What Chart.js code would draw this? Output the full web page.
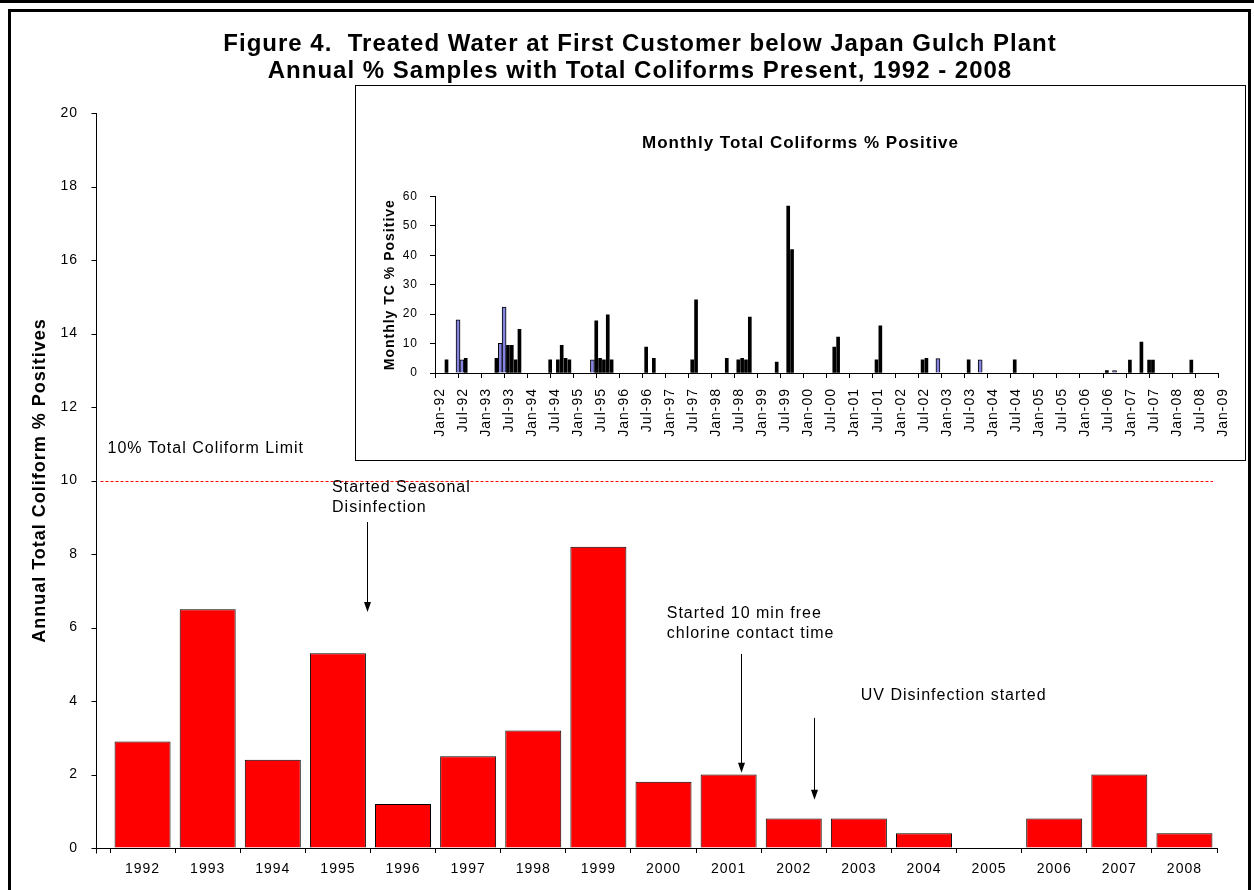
<!DOCTYPE html>
<html>
<head>
<meta charset="utf-8">
<script src="https://cdn.jsdelivr.net/npm/chart.js@4"></script>
<style>
body { margin: 0; background: #fff; width: 1254px; height: 890px; overflow: hidden; position: relative; font-family: 'Liberation Sans', Arial, sans-serif; }
#topbar { position: absolute; left: 0; top: 0; width: 1254px; height: 3px; background: #000; }
#frame { position: absolute; left: 8px; top: 9px; width: 1237px; height: 900px; border: 3px solid #000; }
#main { position: absolute; left: 0; top: 0; }
#title { position: absolute; left: 0; top: 29px; width: 1280px; text-align: center; font-weight: bold; font-size: 24px; line-height: 27px; letter-spacing: 1px; }
#inset { position: absolute; left: 355px; top: 85px; width: 889px; height: 374px; border: 1px solid #000; background: #fff; }
</style>
</head>
<body>
<div id="topbar"></div>
<div id="frame"></div>
<canvas id="main" width="1254" height="890"></canvas>
<div id="title">Figure 4.&nbsp; Treated Water at First Customer below Japan Gulch Plant<br>Annual % Samples with Total Coliforms Present, 1992 - 2008</div>
<div id="inset"><canvas id="monthly" width="889" height="374"></canvas></div>

<script>
const FONT = "'Liberation Sans', Arial, sans-serif";

// annual chart
const years = ['1992', '1993', '1994', '1995', '1996', '1997', '1998', '1999', '2000',
    '2001', '2002', '2003', '2004', '2005', '2006', '2007', '2008'];
const annualPct = [2.9, 6.5, 2.4, 5.3, 1.2, 2.5, 3.2, 8.2, 1.8, 2.0, 0.8, 0.8, 0.4, 0, 0.8, 2.0, 0.4];
const annualMax = 20;
const annualStep = 2;
const limitPct = 10;
const limitLabel = '10% Total Coliform Limit';

// monthly inset
const monthlyMonths = ['1992-04', '1992-09', '1993-05', '1993-08', '1993-09', '1993-10', '1993-11',
    '1994-07', '1994-09', '1994-10', '1994-11', '1994-12', '1995-07', '1995-08', '1995-09', '1995-10',
    '1995-11', '1996-08', '1996-10', '1997-08', '1997-09', '1998-05', '1998-08', '1998-09', '1998-10',
    '1998-11', '1999-06', '1999-09', '1999-10', '2000-09', '2000-10', '2001-08', '2001-09', '2002-08',
    '2002-09', '2003-08', '2004-08', '2006-08', '2007-02', '2007-05', '2007-07', '2007-08', '2008-06'];
const monthlyPct = [4.5, 5.0, 5.0, 9.4, 9.4, 4.5, 14.8,
    4.5, 4.5, 9.4, 5.0, 4.5, 17.7, 5.0, 4.5, 19.8,
    4.5, 8.8, 5.0, 4.5, 24.9, 5.0, 4.5, 5.0, 4.5,
    19.0, 3.7, 56.7, 41.9, 8.8, 12.2, 4.5, 16.0, 4.5,
    5.0, 4.5, 4.5, 0.8, 4.4, 10.5, 4.4, 4.4, 4.4];
const shadedMonths = ['1992-07', '1992-08', '1993-06', '1993-07', '1995-06', '2002-12', '2003-11', '2006-10'];
const shadedPct = [18.1, 4.5, 10.1, 22.4, 4.5, 4.9, 4.5, 0.8];
const monthlyMax = 60;
const monthlyStep = 10;
const firstYear = 1992;
const lastTickMonth = '2009-01';

function monthIndex(s) {
    const [y, m] = s.split('-').map(Number);
    return (y - firstYear) * 12 + (m - 1);
}

function monthTick(v) {
    const names = ['Jan', 'Feb', 'Mar', 'Apr', 'May', 'Jun', 'Jul', 'Aug', 'Sep', 'Oct', 'Nov', 'Dec'];
    const y = firstYear + Math.floor(v / 12);
    return `${names[v % 12]}-${String(y % 100).padStart(2, '0')}`;
}

// excel-ish wide text on both canvases
const spacing = {
    id: 'spacing',
    beforeUpdate(chart) { chart.ctx.letterSpacing = '1px'; },
    beforeDraw(chart) { chart.ctx.letterSpacing = '1px'; },
};

// NOTE notes and arrows, placed in category / value units
const notes = [
    { lines: ['Started Seasonal', 'Disinfection'], x: 2.91, y: 9.82, arrowX: 3.45, from: 8.87, to: 6.42 },
    { lines: ['Started 10 min free', 'chlorine contact time'], x: 8.05, y: 6.39, arrowX: 9.19, from: 5.28, to: 2.05 },
    { lines: ['UV Disinfection started'], x: 11.03, y: 4.14, arrowX: 10.31, from: 3.54, to: 1.31 },
];
const axisGap = 14; // y axis sits a bit left of the first category

const notesPlugin = {
    id: 'notes',
    afterDatasetsDraw(chart) {
        const { ctx, chartArea, scales } = chart;
        const xs = scales.x;
        const ys = scales.y;
        ctx.save();

        // y axis line and ticks
        const axX = Math.round(chartArea.left - axisGap) + 0.5;
        ctx.strokeStyle = '#000';
        ctx.lineWidth = 1;
        ctx.beginPath();
        ctx.moveTo(axX, chartArea.top);
        ctx.lineTo(axX, chartArea.bottom + 0.5);
        ctx.lineTo(chartArea.left, chartArea.bottom + 0.5);
        ys.ticks.forEach((t) => {
            const ty = Math.round(ys.getPixelForValue(t.value)) + 0.5;
            ctx.moveTo(axX - 5, ty);
            ctx.lineTo(axX, ty);
        });
        ctx.moveTo(axX, chartArea.bottom + 0.5);
        ctx.lineTo(axX, chartArea.bottom + 5.5);
        ctx.stroke();

        // limit line
        const ly = Math.round(ys.getPixelForValue(limitPct)) + 0.5;
        ctx.strokeStyle = '#ff0000';
        ctx.setLineDash([3, 2]);
        ctx.beginPath();
        ctx.moveTo(axX + 4, ly);
        ctx.lineTo(chartArea.right - 4, ly);
        ctx.stroke();
        ctx.setLineDash([]);

        ctx.fillStyle = '#000';
        ctx.font = `16px ${FONT}`;
        ctx.textBaseline = 'middle';
        ctx.textAlign = 'left';
        ctx.fillText(limitLabel, axX + 11, ys.getPixelForValue(limitPct + 0.86));

        notes.forEach((n) => {
            const tx = xs.getPixelForValue(n.x);
            n.lines.forEach((line, i) => {
                ctx.fillText(line, tx, ys.getPixelForValue(n.y) + i * 20);
            });
            const ax = Math.round(xs.getPixelForValue(n.arrowX)) + 0.5;
            const y1 = ys.getPixelForValue(n.from);
            const y2 = ys.getPixelForValue(n.to);
            ctx.strokeStyle = '#000';
            ctx.beginPath();
            ctx.moveTo(ax, y1);
            ctx.lineTo(ax, y2 - 8);
            ctx.stroke();
            ctx.beginPath();
            ctx.moveTo(ax - 3.5, y2 - 10);
            ctx.lineTo(ax + 3.5, y2 - 10);
            ctx.lineTo(ax, y2);
            ctx.closePath();
            ctx.fill();
        });
        ctx.restore();
    },
};

new Chart(document.getElementById('main'), {
    type: 'bar',
    data: {
        labels: years,
        datasets: [{
            data: annualPct,
            backgroundColor: '#ff0000',
            borderColor: '#000',
            borderWidth: 1,
            categoryPercentage: 1,
            barPercentage: 0.86,
        }],
    },
    options: {
        responsive: false,
        animation: false,
        layout: { padding: { left: 0, right: 37, top: 113, bottom: 0 } },
        plugins: { legend: { display: false }, tooltip: { enabled: false } },
        scales: {
            x: {
                grid: { drawOnChartArea: false, tickLength: 5, color: '#000', offset: true },
                border: { color: '#000' },
                ticks: { color: '#000', font: { family: FONT, size: 14 }, padding: 8, maxRotation: 0 },
                afterFit: (s) => { s.height = 42; },
            },
            y: {
                min: 0,
                max: annualMax,
                grid: { drawOnChartArea: false, tickLength: 19, color: 'rgba(0,0,0,0)' },
                border: { display: false },
                ticks: { stepSize: annualStep, color: '#000', font: { family: FONT, size: 14 }, padding: 13 },
                title: {
                    display: true,
                    text: 'Annual Total Coliform % Positives',
                    color: '#000',
                    font: { family: FONT, size: 18, weight: 'bold' },
                    padding: { top: 29, bottom: 0 },
                },
                afterFit: (s) => { s.width = 110; },
            },
        },
    },
    plugins: [spacing, notesPlugin],
});

new Chart(document.getElementById('monthly'), {
    type: 'bar',
    data: {
        datasets: [
            {
                data: monthlyMonths.map((m, i) => ({ x: monthIndex(m), y: monthlyPct[i] })),
                backgroundColor: '#000',
                borderColor: '#000',
                borderWidth: 0,
                barThickness: 3,
                grouped: false,
            },
            {
                data: shadedMonths.map((m, i) => ({ x: monthIndex(m), y: shadedPct[i] })),
                backgroundColor: '#8585e0',
                borderColor: '#000',
                borderWidth: 1,
                barThickness: 4,
                grouped: false,
            },
        ],
    },
    options: {
        responsive: false,
        animation: false,
        layout: { padding: 0 },
        plugins: {
            legend: { display: false },
            tooltip: { enabled: false },
            title: {
                display: true,
                text: 'Monthly Total Coliforms % Positive',
                color: '#000',
                font: { family: FONT, size: 17, weight: 'bold' },
                padding: { top: 47, bottom: 43 },
            },
        },
        scales: {
            x: {
                type: 'linear',
                min: 0,
                max: monthIndex(lastTickMonth),
                offset: false,
                grid: { drawOnChartArea: false, tickLength: 5, color: '#000', offset: false },
                border: { color: '#000' },
                ticks: {
                    stepSize: 6,
                    autoSkip: false,
                    maxRotation: 90,
                    minRotation: 90,
                    labelOffset: 5,
                    color: '#000',
                    font: { family: FONT, size: 14 },
                    padding: 10,
                    callback: (v) => monthTick(v),
                },
                afterFit: (s) => { s.height = 87; },
            },
            y: {
                min: 0,
                max: monthlyMax,
                grid: { drawOnChartArea: false, tickLength: 5, color: '#000' },
                border: { color: '#000' },
                ticks: { stepSize: monthlyStep, color: '#000', font: { family: FONT, size: 12 }, padding: 12 },
                title: {
                    display: true,
                    text: 'Monthly TC % Positive',
                    color: '#000',
                    font: { family: FONT, size: 14, weight: 'bold' },
                    padding: { top: 26, bottom: 0 },
                },
                afterFit: (s) => { s.width = 79; },
            },
            // empty right margin so the title stays centred on the box
            gap: {
                position: 'right',
                grid: { display: false },
                border: { display: false },
                ticks: { display: false },
                afterFit: (s) => { s.width = 23; },
            },
        },
    },
    plugins: [spacing],
});
</script>
</body>
</html>
